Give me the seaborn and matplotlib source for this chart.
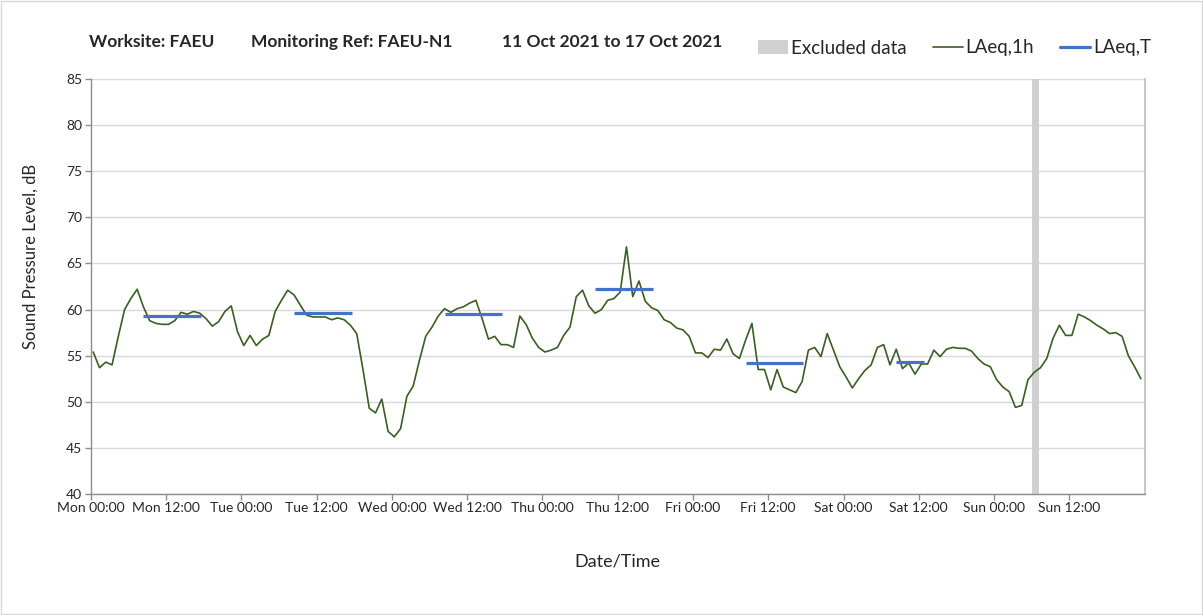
import numpy as np
import pandas as pd
import matplotlib
matplotlib.use('Agg')
import matplotlib.pyplot as plt
import seaborn as sns
from matplotlib.patches import Patch, Rectangle
from matplotlib.lines import Line2D


# hourly LAeq,1h readings, Mon 00:00 to Sun 23:00
laeq_1h = [55.4, 53.7, 54.3, 54.0, 57.1, 60.0, 61.2, 62.2, 60.3, 58.8, 58.5, 58.4,
           58.4, 58.8, 59.7, 59.5, 59.8, 59.6, 59.0, 58.2, 58.7, 59.8, 60.4, 57.6,
           56.1, 57.2, 56.1, 56.8, 57.2, 59.8, 61.0, 62.1, 61.6, 60.5, 59.4, 59.2,
           59.2, 59.2, 58.9, 59.1, 58.9, 58.3, 57.4, 53.5, 49.3, 48.8, 50.3, 46.8,
           46.2, 47.1, 50.6, 51.7, 54.5, 57.1, 58.1, 59.3, 60.1, 59.7, 60.1, 60.3,
           60.7, 61.0, 59.0, 56.8, 57.1, 56.2, 56.2, 55.9, 59.3, 58.4, 56.9, 55.9,
           55.4, 55.6, 55.9, 57.2, 58.1, 61.4, 62.1, 60.4, 59.6, 60.0, 61.0, 61.2,
           61.9, 66.8, 61.4, 63.1, 60.9, 60.2, 59.9, 58.9, 58.6, 58.0, 57.8, 57.1,
           55.3, 55.3, 54.8, 55.7, 55.6, 56.8, 55.2, 54.7, 56.7, 58.5, 53.5, 53.5,
           51.3, 53.5, 51.6, 51.3, 51.0, 52.2, 55.6, 55.9, 54.9, 57.4, 55.6, 53.8,
           52.7, 51.5, 52.5, 53.4, 54.0, 55.9, 56.2, 54.0, 55.7, 53.6, 54.2, 53.0,
           54.1, 54.1, 55.6, 54.9, 55.7, 55.9, 55.8, 55.8, 55.5, 54.7, 54.1, 53.8,
           52.4, 51.6, 51.1, 49.4, 49.6, 52.4, 53.2, 53.7, 54.7, 56.9, 58.3, 57.2,
           57.2, 59.5, 59.2, 58.8, 58.3, 57.9, 57.4, 57.5, 57.1, 55.0, 53.8, 52.5]
hours = np.arange(len(laeq_1h)) + 0.4

# LAeq,T over each working period (hours from Mon 00:00)
period_start = [8.4, 32.4, 56.4, 80.4, 104.4, 128.4]
period_end = [17.6, 41.6, 65.6, 89.6, 113.6, 132.8]
laeq_t = [59.3, 59.6, 59.5, 62.2, 54.2, 54.3]

excluded_start = 150.0
excluded_end = 151.1

tick_hours = list(range(0, 168, 12))
tick_labels = ['Mon 00:00', 'Mon 12:00', 'Tue 00:00', 'Tue 12:00', 'Wed 00:00',
               'Wed 12:00', 'Thu 00:00', 'Thu 12:00', 'Fri 00:00', 'Fri 12:00',
               'Sat 00:00', 'Sat 12:00', 'Sun 00:00', 'Sun 12:00']
day_hours = list(range(0, 169, 24))
y_ticks = list(range(40, 90, 5))

green = '#3a5e24'
blue = '#4472c4'
grey = '#d0d0d0'

sns.set_theme(style='white')
plt.rcParams['font.family'] = ['Lato', 'DejaVu Sans']

fig = plt.figure(figsize=(12.03, 6.15), dpi=100)
ax = fig.add_axes([0.0754, 0.1967, 0.8761, 0.6748])

df = pd.DataFrame({'hour': hours, 'LAeq,1h': laeq_1h})

ax.axvspan(excluded_start, excluded_end, color=grey, lw=0, zorder=1.5)
sns.lineplot(data=df, x='hour', y='LAeq,1h', ax=ax, color=green, lw=1.2, zorder=3)
ax.hlines(laeq_t, period_start, period_end, color=blue, lw=2.3, zorder=4)

ax.set_xlim(0, 168)
ax.set_ylim(40, 85)
ax.set_yticks(y_ticks)
ax.set_xticks(tick_hours)
ax.set_xticklabels(tick_labels)
ax.set_xticks(day_hours, minor=True)

ax.grid(axis='y', which='major', color='#d9d9d9', lw=1)
ax.grid(axis='x', which='minor', color='#d9d9d9', lw=1)
ax.grid(axis='x', which='major', visible=False)
ax.set_axisbelow(True)

for s in ['left', 'bottom']:
    ax.spines[s].set_color('#8c8c8c')
    ax.spines[s].set_linewidth(1)
ax.spines['right'].set_color('#bfbfbf')
ax.spines['top'].set_visible(False)

ax.tick_params(axis='both', which='major', direction='out', length=4, width=1,
               color='#8c8c8c', labelsize=10, labelcolor='#262626',
               bottom=True, left=True, pad=2)
ax.tick_params(axis='x', which='minor', length=0)

ax.set_xlabel('Date/Time', fontsize=13, color='#262626', labelpad=28)
ax.set_ylabel('Sound Pressure Level, dB', fontsize=12, color='#262626')
ax.yaxis.set_label_coords(-0.049, 0.573)

ty = 1 - 42 / 615
fig.text(89 / 1203, ty, 'Worksite: FAEU', fontsize=12.5, fontweight='bold', va='center')
fig.text(251 / 1203, ty, 'Monitoring Ref: FAEU-N1', fontsize=12.5, fontweight='bold', va='center')
fig.text(502 / 1203, ty, '11 Oct 2021 to 17 Oct 2021', fontsize=12.5, fontweight='bold', va='center')

handles = [Patch(facecolor=grey, edgecolor='none', label='Excluded data'),
           Line2D([], [], color=green, lw=1.2, label='LAeq,1h'),
           Line2D([], [], color=blue, lw=2.3, label='LAeq,T')]
fig.legend(handles=handles, loc='center left', bbox_to_anchor=(758 / 1203, 1 - 48 / 615),
           ncol=3, frameon=False, fontsize=13.5, handlelength=1.6, handletextpad=0.15,
           columnspacing=1.4, borderaxespad=0, borderpad=0)

fig.add_artist(Rectangle((0.0005, 0.001), 0.999, 0.998, transform=fig.transFigure,
                         fill=False, ec='#d9d9d9', lw=1))

fig.savefig('out.png', dpi=100)
